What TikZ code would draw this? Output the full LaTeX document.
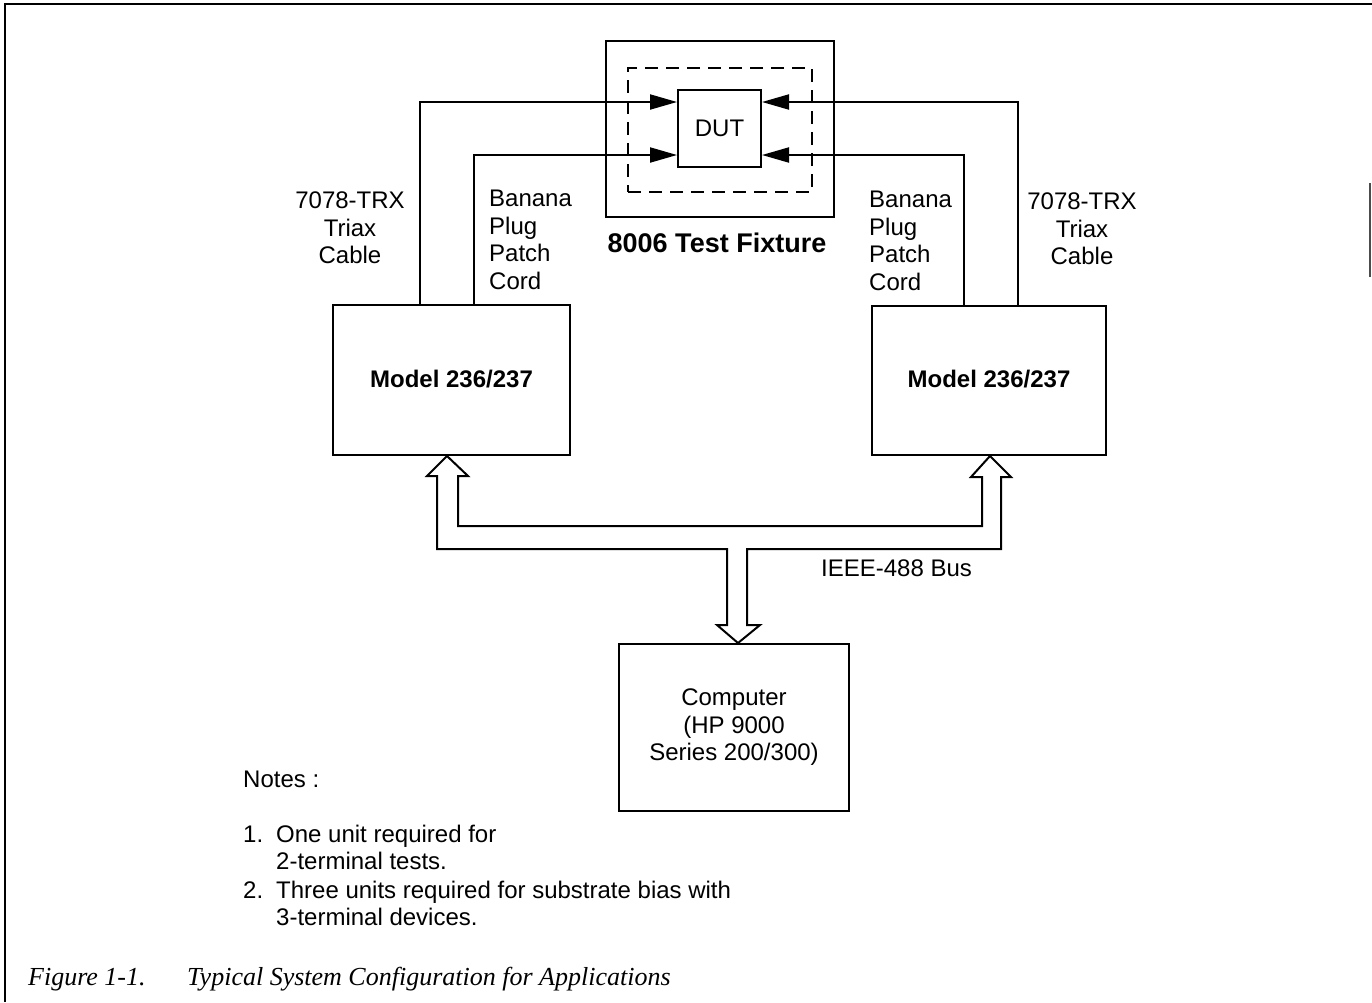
\documentclass[tikz,border=0pt]{standalone}
\usepackage{fontspec}
\setsansfont{Liberation Sans}
\newfontfamily\capfont{Liberation Serif}
\usetikzlibrary{arrows.meta,calc}
\begin{document}
\begin{tikzpicture}[x=1pt,y=-1pt,
  box/.style={draw,line width=2pt,inner sep=0pt,font=\sffamily\fontsize{24}{27.5}\selectfont},
  lbl/.style={inner sep=0pt,font=\sffamily\fontsize{24}{27.5}\selectfont},
  caption/.style={inner sep=0pt,anchor=base west,font=\capfont\itshape\fontsize{26}{29}\selectfont},
  wire/.style={line width=2pt,-{Triangle[length=27pt,width=15pt]}},
  frame/.style={line width=2.5pt}]
\useasboundingbox (0,0) rectangle (1372,1002);
% frame
\coordinate (f1) at (5,4);
\coordinate (f2) at (1372,4);
\coordinate (f3) at (5,1002);
\coordinate (f4) at (1370,183);
\coordinate (f5) at (1370,277);
\draw[frame] (f3) -- (f1) -- (f2);
\draw[line width=2pt,black!70] (f4) -- (f5);
% test fixture
\node[box,minimum width=228pt,minimum height=176pt] (fix) at (720,129) {};
\node[draw,line width=2pt,dash pattern=on 13pt off 8pt,minimum width=184pt,minimum height=124pt,inner sep=0pt] (dash) at (720,130) {};
\node[box,minimum width=83pt,minimum height=77pt] (dut) at (719.5,128.5) {DUT};
\node[lbl,anchor=base,font=\sffamily\bfseries\fontsize{27}{30}\selectfont] (fixl) at (717,252.5) {8006 Test Fixture};
% models
\node[box,minimum width=237pt,minimum height=150pt,font=\sffamily\bfseries\fontsize{24}{27.5}\selectfont] (lm) at (451.5,380) {\raisebox{3pt}{Model 236/237}};
\node[box,minimum width=234pt,minimum height=149pt,font=\sffamily\bfseries\fontsize{24}{27.5}\selectfont] (rm) at (989,380.5) {\raisebox{3pt}{Model 236/237}};
% computer
\node[box,minimum width=230pt,minimum height=167pt,align=center] (comp) at (734,727.5) {Computer\\(HP 9000\\Series 200/300)};
% wires
\coordinate (tl) at (420,102);
\coordinate (bl) at (474,155);
\coordinate (tr) at (1018,102);
\coordinate (br) at (964,155);
\draw[wire] (lm.north -| tl) |- (dut.west |- tl);
\draw[wire] (lm.north -| bl) |- (dut.west |- bl);
\draw[wire] (rm.north -| tr) |- (dut.east |- tr);
\draw[wire] (rm.north -| br) |- (dut.east |- br);
% labels
\node[lbl,align=center] (tlab) at (350,228) {7078-TRX\\Triax\\Cable};
\node[lbl,align=left,anchor=west] (blab) at (489,240) {Banana\\Plug\\Patch\\Cord};
\node[lbl,align=left,anchor=west] (brlab) at (869,241) {Banana\\Plug\\Patch\\Cord};
\node[lbl,align=center] (trlab) at (1082,229) {7078-TRX\\Triax\\Cable};
% bus
\draw[line width=2pt,line join=miter] (447,456) -- (468,476) -- (458,476) -- (458,526) -- (982,526) -- (982,477) -- (971,477) -- (990,456) -- (1011,477) -- (1001,477) -- (1001,549) -- (747,549) -- (747,625) -- (760,625) -- (738,643) -- (717,625) -- (727,625) -- (727,549) -- (437,549) -- (437,476) -- (427,476) -- cycle;
\node[lbl,anchor=base west] (bus) at (821,576.5) {IEEE-488 Bus};
% notes
\node[lbl,anchor=base west] (notes) at (243,787.5) {Notes :};
\node[lbl,anchor=base west] (n1) at (243,842.5) {1.};
\node[lbl,anchor=base west] (n1a) at (276,842.5) {One unit required for};
\node[lbl,anchor=base west] (n1b) at (276,869.5) {2-terminal tests.};
\node[lbl,anchor=base west] (n2) at (243,898.5) {2.};
\node[lbl,anchor=base west] (n2a) at (276,898.5) {Three units required for substrate bias with};
\node[lbl,anchor=base west] (n2b) at (276,925.5) {3-terminal devices.};
% caption
\node[caption] (cap1) at (28,985) {Figure 1-1.};
\node[caption] (cap2) at (187,985) {Typical System Configuration for Applications};
\end{tikzpicture}
\end{document}
